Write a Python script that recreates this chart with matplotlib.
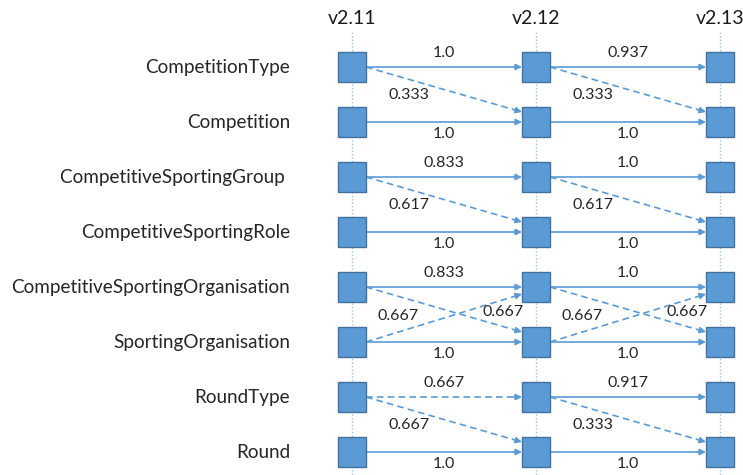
import matplotlib
matplotlib.use("Agg")
import matplotlib.pyplot as plt
from matplotlib.patches import Rectangle

# ---------------- data ----------------
versions = ["v2.11", "v2.12", "v2.13"]
classes = ["CompetitionType", "Competition", "CompetitiveSportingGroup ",
           "CompetitiveSportingRole", "CompetitiveSportingOrganisation",
           "SportingOrganisation", "RoundType", "Round"]
edge_col = [0]*13 + [1]*13
edge_src = [0, 0, 1, 2, 2, 3, 4, 4, 5, 5, 6, 6, 7,
            0, 0, 1, 2, 2, 3, 4, 4, 5, 5, 6, 6, 7]
edge_dst = [0, 1, 1, 2, 3, 3, 4, 5, 4, 5, 6, 7, 7,
            0, 1, 1, 2, 3, 3, 4, 5, 4, 5, 6, 7, 7]
edge_weight = [1.0, 0.333, 1.0, 0.833, 0.617, 1.0, 0.833, 0.667, 0.667, 1.0, 0.667, 0.667, 1.0,
               0.937, 0.333, 1.0, 1.0, 0.617, 1.0, 1.0, 0.667, 0.667, 1.0, 0.917, 0.333, 1.0]
edge_kind = ["solid", "dashed", "solid", "solid", "dashed", "solid", "solid", "dashed", "dashed",
             "solid", "dashed", "dashed", "solid",
             "solid", "dashed", "solid", "solid", "dashed", "solid", "solid", "dashed", "dashed",
             "solid", "solid", "dashed", "solid"]

# ---------------- layout ----------------
W, H = 743, 475
COL_PX, ROW_PX = 184.0, 55.0
X0_PX, Y0_PX = 352.0, 67.0
BOX_W, BOX_H = 28.0, 30.0

BLUE = "#5B9BD5"
EDGE = "#41719C"
LINE = "#5B9BD5"
VLINE = "#9DC3E6"
TXT = "#262626"
FONT = "Lato"

fig = plt.figure(figsize=(W/100, H/100), dpi=100)
ax = fig.add_axes([0, 0, 1, 1])
ax.set_xlim(-X0_PX/COL_PX, (W - X0_PX)/COL_PX)
ax.set_ylim((H - Y0_PX)/ROW_PX, -Y0_PX/ROW_PX)
ax.axis("off")

px_x = lambda p: p/COL_PX
px_y = lambda p: p/ROW_PX
hw, hh = px_x(BOX_W/2), px_y(BOX_H/2)

nrow = len(classes)
# vertical dotted guide lines + headers
for c, v in enumerate(versions):
    ax.plot([c, c], [px_y(32 - Y0_PX), px_y(H - Y0_PX)], linestyle=(0, (1, 1.5)),
            color=VLINE, lw=1.0, zorder=1)
    ax.text(c, px_y(18 - Y0_PX), v, ha="center", va="center", fontsize=14,
            family=FONT, color="#1a1a1a")

# class labels
for r, name in enumerate(classes):
    ax.text(px_x(290 - X0_PX), r, name, ha="right", va="center", fontsize=13.6,
            family=FONT, color=TXT)

# boxes
for c in range(len(versions)):
    for r in range(nrow):
        ax.add_patch(Rectangle((c - hw, r - hh), 2*hw, 2*hh, facecolor=BLUE,
                               edgecolor=EDGE, lw=1.0, zorder=3))

# edges
pairs = set(zip(edge_col, edge_src, edge_dst))
for c, s, d, w, k in zip(edge_col, edge_src, edge_dst, edge_weight, edge_kind):
    x1, x2 = c + hw, c + 1 - hw
    y1 = s
    if d == s:
        y2 = d
    elif d > s:
        y2 = d - px_y(10)
    else:
        y2 = d + px_y(7)
    ls = "-" if k == "solid" else (0, (4, 2.5))
    frac = 1 - px_x(8) / (x2 - x1)
    xe, ye = x1 + (x2 - x1)*frac, y1 + (y2 - y1)*frac
    ax.plot([x1, xe], [y1, ye], linestyle=ls, color=LINE, lw=1.2, zorder=2)
    ax.annotate("", xy=(x2, y2), xytext=(xe, ye),
                arrowprops=dict(arrowstyle="-|>", color=LINE, lw=1.2,
                                mutation_scale=9, shrinkA=0, shrinkB=0), zorder=2)
    label = str(w)
    if d == s:
        lx = c + 0.5
        ly = s - px_y(14) if s % 2 == 0 else s + px_y(12)
    elif d > s:
        if (c, d, s) in pairs:
            lx, ly = c + 0.82, s + 0.45
        else:
            lx, ly = c + 0.31, s + 0.5
    else:
        lx, ly = c + 0.25, d + 0.52
    ax.text(lx, ly, label, ha="center", va="center", fontsize=11.5,
            family=FONT, color=TXT, zorder=4)

fig.savefig("out.png", dpi=100)
